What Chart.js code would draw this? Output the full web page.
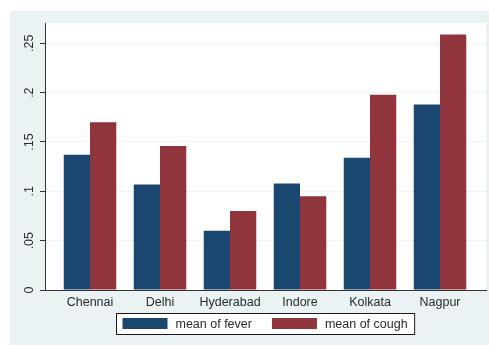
<!DOCTYPE html>
<html>
<head>
<meta charset="utf-8">
<script src="https://cdn.jsdelivr.net/npm/chart.js@4/dist/chart.umd.min.js"></script>
<style>
  html, body { margin: 0; padding: 0; background: #fff; }
  #wrap { width: 489px; height: 345px; }
</style>
</head>
<body>
<div id="wrap"><canvas id="chart" width="489" height="345"></canvas></div>
<script>
const cities = ['Chennai', 'Delhi', 'Hyderabad', 'Indore', 'Kolkata', 'Nagpur'];
const fever = [0.137, 0.107, 0.060, 0.108, 0.134, 0.188];
const cough = [0.170, 0.146, 0.080, 0.095, 0.198, 0.259];
const seriesNames = ['mean of fever', 'mean of cough'];
const yTicks = [0, 0.05, 0.1, 0.15, 0.2, 0.25];
const yTickLabels = ['0', '.05', '.1', '.15', '.2', '.25'];

const FONT = "'Liberation Sans', Arial, sans-serif";
const navy = '#1a476f';
const maroon = '#90353b';
const textColor = '#2a2a2a';

// stata-ish background: light blue graph region, white plot region
const backgroundPlugin = {
    id: 'bg',
    beforeDraw(chart) {
        const ctx = chart.ctx;
        const a = chart.chartArea;
        ctx.save();
        ctx.fillStyle = '#ffffff';
        ctx.fillRect(0, 0, chart.width, chart.height);
        ctx.fillStyle = '#eaf2f3';
        ctx.fillRect(10, 11, chart.width - 10, chart.height - 11);
        ctx.fillStyle = '#ffffff';
        ctx.fillRect(a.left, a.top, a.right - a.left, a.bottom - a.top);
        ctx.restore();
    }
};

// rotated y labels + boxed legend
const extrasPlugin = {
    id: 'extras',
    afterDraw(chart) {
        const ctx = chart.ctx;
        const y = chart.scales.y;
        const a = chart.chartArea;
        ctx.save();
        ctx.font = '12.5px ' + FONT;
        ctx.fillStyle = textColor;
        ctx.textAlign = 'center';
        ctx.textBaseline = 'middle';
        yTicks.forEach((v, i) => {
            const py = y.getPixelForValue(v);
            ctx.save();
            ctx.translate(30, py);
            ctx.rotate(-Math.PI / 2);
            ctx.fillText(yTickLabels[i], 0, 0);
            ctx.restore();
        });

        // legend
        const colors = [navy, maroon];
        const sw = 45, sh = 11;
        const w1 = ctx.measureText(seriesNames[0]).width;
        const w2 = ctx.measureText(seriesNames[1]).width;
        const total = 6 + sw + 8 + w1 + 20 + sw + 8 + w2 + 7;
        const cx = (a.left + a.right) / 2;
        const bx = Math.round(cx - total / 2) + 0.5;
        const by = 313.5, bh = 21;
        ctx.fillStyle = '#ffffff';
        ctx.fillRect(bx, by, total, bh);
        ctx.strokeStyle = '#1a1a1a';
        ctx.lineWidth = 1;
        ctx.strokeRect(bx, by, total, bh);
        let x = bx + 6;
        ctx.textAlign = 'left';
        [w1, w2].forEach((w, i) => {
            ctx.fillStyle = colors[i];
            ctx.fillRect(x, 318, sw, sh);
            x += sw + 8;
            ctx.fillStyle = textColor;
            ctx.fillText(seriesNames[i], x, 324.5);
            x += w + 20;
        });
        ctx.restore();
    }
};

new Chart(document.getElementById('chart'), {
    type: 'bar',
    data: {
        datasets: [
            {
                label: seriesNames[0],
                data: fever.map((v, i) => ({ x: i, y: v })),
                backgroundColor: navy,
                borderWidth: 0
            },
            {
                label: seriesNames[1],
                data: cough.map((v, i) => ({ x: i, y: v })),
                backgroundColor: maroon,
                borderWidth: 0
            }
        ]
    },
    options: {
        responsive: false,
        animation: false,
        devicePixelRatio: 1,
        categoryPercentage: 0.75,
        barPercentage: 1,
        layout: { padding: { top: 23, left: 0, right: 3, bottom: 0 } },
        plugins: {
            legend: { display: false },
            tooltip: { enabled: false }
        },
        scales: {
            x: {
                type: 'linear',
                offset: false,
                min: -0.643,
                max: 5.657,
                grid: { display: false, drawTicks: false, offset: false },
                border: { display: true, color: '#333', width: 1 },
                ticks: {
                    stepSize: 1,
                    includeBounds: false,
                    autoSkip: false,
                    maxRotation: 0,
                    padding: 5,
                    color: textColor,
                    font: { family: FONT, size: 12.5 },
                    callback: (v) => cities[v] ?? ''
                },
                afterFit: (s) => { s.height = 55; }
            },
            y: {
                min: 0,
                max: 0.2706,
                grid: {
                    color: '#eef3f6',
                    tickColor: '#333',
                    tickLength: 5,
                    drawTicks: true
                },
                border: { display: true, color: '#333', width: 1 },
                ticks: { display: false, includeBounds: false },
                afterBuildTicks: (s) => { s.ticks = yTicks.map(v => ({ value: v })); },
                afterFit: (s) => { s.width = 45; }
            }
        }
    },
    plugins: [backgroundPlugin, extrasPlugin]
});
</script>
</body>
</html>
